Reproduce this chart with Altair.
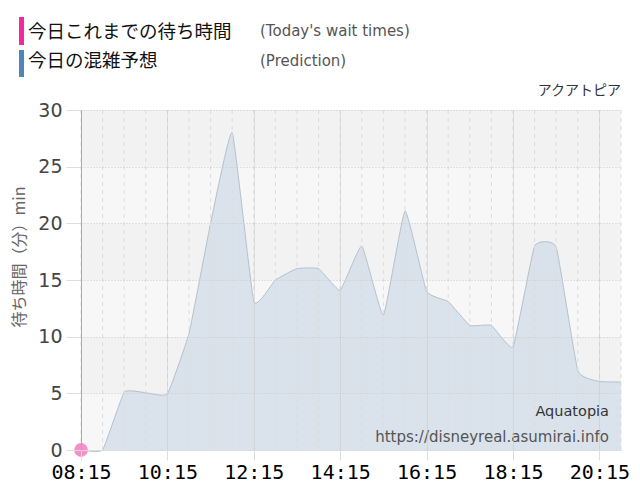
import altair as alt
import pandas as pd

# ---- data -------------------------------------------------------------
times = ["08:15", "08:45", "09:15", "09:45", "10:15", "10:45", "11:15", "11:45",
         "12:15", "12:45", "13:15", "13:45", "14:15", "14:45", "15:15", "15:45",
         "16:15", "16:45", "17:15", "17:45", "18:15", "18:45", "19:15", "19:45",
         "20:15", "20:45"]
prediction = [0, 0, 5.1, 5.05, 4.95, 10.3, 20.0, 28.0,
              13.1, 15.0, 16.0, 16.0, 14.1, 18.0, 11.9, 21.1,
              14.0, 13.1, 11.0, 11.0, 9.1, 18.0, 17.9, 7.0,
              6.05, 6.0]
today_times = ["08:15"]
today_values = [0]
tick_labels = ["08:15", "10:15", "12:15", "14:15", "16:15", "18:15", "20:15"]
y_ticks = [0, 5, 10, 15, 20, 25, 30]
band_lo = [0, 5, 10, 15, 20, 25]
band_hi = [5, 10, 15, 20, 25, 30]
band_col = ["#f7f7f7", "#f2f2f2", "#f7f7f7", "#f2f2f2", "#f7f7f7", "#f2f2f2"]


def to_min(t):
    h, m = t.split(":")
    return int(h) * 60 + int(m)


pred_df = pd.DataFrame({"t": [to_min(t) for t in times], "v": prediction})
today_df = pd.DataFrame({"t": [to_min(t) for t in today_times], "v": today_values})
grid_df = pd.DataFrame({"t": [to_min(t) for t in times]})
band_df = pd.DataFrame({"lo": band_lo, "hi": band_hi, "c": band_col})

x_domain = [to_min(times[0]), to_min(times[-1])]
x_scale = alt.Scale(domain=x_domain, nice=False, zero=False)
y_scale = alt.Scale(domain=[0, 30], nice=False)

label_expr = ("pad('' + floor(datum.value/60), 2, '0', 'left') + ':' + "
              "pad('' + (datum.value % 60), 2, '0', 'left')")

x_axis = alt.Axis(values=[to_min(t) for t in tick_labels], labelExpr=label_expr,
                  title=None, grid=True, gridColor="#c8c8c8", gridDash=[1, 1],
                  tickColor="#dddddd", tickSize=10, labelPadding=2,
                  labelFont="DejaVu Sans Mono", labelFontSize=20, labelColor="#000000",
                  labelFontWeight="normal", labelOverlap=False, labelFlush=False,
                  domainColor="#dddddd", zindex=1)
y_axis = alt.Axis(values=y_ticks, title=None, grid=True, gridColor="#c8c8c8",
                  gridDash=[1, 2], tickColor="#dddddd", tickSize=15, labelPadding=4,
                  labelFont="DejaVu Sans", labelFontSize=19, labelColor="#444444",
                  labelOverlap=False, labelFlush=False, domainColor="#aaaaaa", zindex=1)

bands = alt.Chart(band_df).mark_rect().encode(
    y=alt.Y("lo:Q", scale=y_scale, axis=y_axis),
    y2="hi:Q",
    x=alt.value(0), x2=alt.value(540),
    color=alt.Color("c:N", scale=None),
)

area = alt.Chart(pred_df).mark_area(
    interpolate="cardinal", tension=0.65, color="#d6e0e9", opacity=0.9,
    line={"color": "#b3c1cd", "strokeWidth": 1},
).encode(
    x=alt.X("t:Q", scale=x_scale, axis=x_axis),
    y=alt.Y("v:Q", scale=y_scale),
)

vgrid = alt.Chart(grid_df).mark_rule(color="#dcdcdc", strokeDash=[4, 4], strokeWidth=1).encode(
    x=alt.X("t:Q", scale=x_scale),
)

dot = alt.Chart(today_df).mark_circle(size=190, color="#f590c9", opacity=1).encode(
    x=alt.X("t:Q", scale=x_scale),
    y=alt.Y("v:Q", scale=y_scale),
)

one = alt.Data(values=[{}])


def txt(s, x, y, size, color, font, align="left", angle=0):
    kw = dict(align=align, baseline="middle", fontSize=size, color=color, font=font)
    if angle:
        kw["angle"] = angle
    return alt.Chart(one).mark_text(**kw).encode(
        x=alt.value(x), y=alt.value(y), text=alt.value(s))


def bar(x1, x2, y1, y2, color):
    return alt.Chart(one).mark_rect(color=color).encode(
        x=alt.value(x1), x2=alt.value(x2), y=alt.value(y1), y2=alt.value(y2))


jp = "Noto Sans CJK JP"
lat = "DejaVu Sans"
texts = [
    bar(-62, -57, -93, -65, "#f2299c"),
    bar(-62, -57, -60, -33, "#4f86b8"),
    txt("今日これまでの待ち時間", -53, -78, 18.5, "#111111", jp),
    txt("(Today's wait times)", 179, -79, 15, "#555555", lat),
    txt("今日の混雑予想", -53, -49, 18.5, "#111111", jp),
    txt("(Prediction)", 179, -49, 15, "#555555", lat),
    txt("アクアトピア", 540, -19, 14, "#333333", jp, align="right"),
    txt("待ち時間（分）min", -61, 147, 16, "#666666", jp, align="center", angle=270),
    txt("Aquatopia", 528, 302, 14.5, "#333333", lat, align="right"),
    txt("https://disneyreal.asumirai.info", 528, 327, 15, "#555555", lat, align="right"),
]

chart = alt.layer(bands, area, vgrid, dot, *texts).properties(
    width=540, height=340,
    padding={"left": 73, "top": 102, "right": 11, "bottom": 40},
    autosize=alt.AutoSizeParams(type="none"),
    background="#ffffff",
).configure_view(stroke=None)

chart.save("out.html", embed_options={"renderer": "svg", "actions": False})
